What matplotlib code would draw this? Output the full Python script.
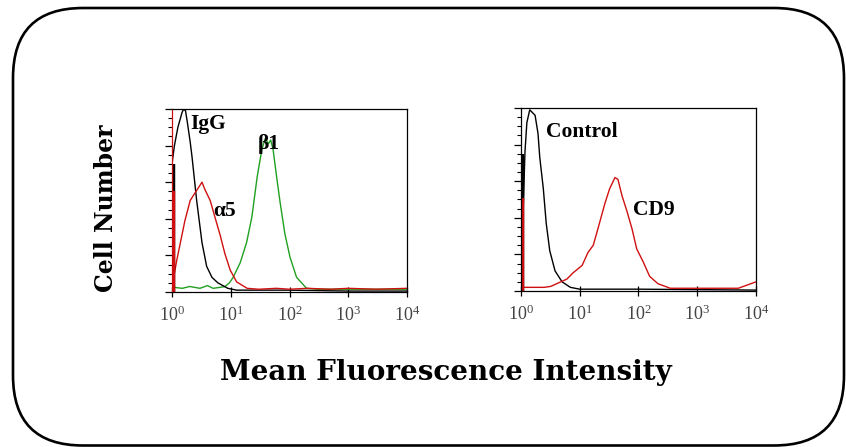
import matplotlib

matplotlib.use("Agg")
import matplotlib.pyplot as plt
import matplotlib.transforms as mtransforms
from matplotlib.patches import FancyBboxPatch
from matplotlib.ticker import FixedLocator, LogLocator, NullFormatter, FixedFormatter

# ── Data (MFI value, cell count, 0-100 scale) ─────────────────────────────────
igg_x = [1.0, 1.1, 1.26, 1.48, 1.58, 1.70, 1.82, 2.04, 2.19, 2.63, 3.24, 3.89,
         4.79, 6.03, 8.91, 12.6, 20, 50, 100, 1000, 10000]
igg_y = [70, 80, 90, 98, 100, 99, 93, 82, 74, 50, 27, 14,
         8, 5, 2, 1, 1, 1, 1, 0.5, 0.5]

a5_x = [1.07, 1.20, 1.66, 2.04, 2.45, 2.82, 3.24, 3.63, 4.47, 5.37, 6.61, 7.94,
        9.77, 12.6, 19, 30, 60, 100, 200, 500, 1000, 3000, 10000]
a5_y = [8, 17, 39, 50, 54, 57, 60, 56, 50, 41, 31, 21,
        12, 5.5, 2, 1.5, 2, 1.5, 2, 1.5, 2, 1.5, 2]

b1_x = [1.0, 1.1, 1.5, 2, 3, 4, 5, 6.5, 8, 9.5, 11, 14.5, 18.6, 22.9, 28.2,
        33.9, 38.9, 43.7, 47.9, 52.5, 60.3, 69.2, 83.2, 102, 132, 195, 300,
        1000, 10000]
b1_y = [8, 2.5, 2, 3, 2, 3.5, 2, 2.5, 3, 5, 8, 16, 27, 41, 63,
        78, 84, 81, 83, 78, 63, 49, 32, 19, 8, 2, 1.5,
        1.5, 1.5]

ctrl_x = [1.0, 1.17, 1.26, 1.41, 1.74, 1.95, 2.09, 2.40, 2.69, 3.09, 3.80, 5.01,
          6.92, 10, 100, 10000]
ctrl_y = [5, 76, 92, 99, 96, 86, 73, 56, 37, 22, 11, 5,
          2, 1, 1, 0.5]

cd9_x = [1.0, 1.5, 2.5, 3.2, 4.07, 6.03, 7.76, 11.0, 13.8, 17.0, 20.4, 26.9,
         32.4, 39.8, 44.7, 52.5, 63.1, 77.6, 93.3, 120, 155, 214, 347, 1000,
         5000, 10000]
cd9_y = [2, 2, 2, 2.5, 4, 6.5, 10, 14, 21, 25, 34, 48,
         56, 62, 61, 52, 44, 34, 23, 16, 8, 4, 1.5, 1.5,
         1.5, 5]

# first-channel (off-scale) counts piled up at MFI = 1
left_edge = {"black": 70, "red": 55}
right_edge = {"black": 75, "red": 51}

tick_vals = [1, 10, 100, 1000, 10000]
tick_labels = [r"$\mathregular{10^{%d}}$" % i for i in range(5)]

RED = "#D01010"
GREEN = "#20A020"
SERIF = "Liberation Serif"

plt.rcParams.update({"font.family": SERIF})

fig = plt.figure(figsize=(8.46, 4.47), dpi=100)
fig.patch.set_facecolor("white")

# rounded frame around the whole panel (display pixels)
frame = FancyBboxPatch((13, 1.5), 831, 437.5,
                       boxstyle="round,pad=0,rounding_size=70",
                       transform=mtransforms.IdentityTransform(),
                       facecolor="none", edgecolor="black", linewidth=1.9)
fig.patches.append(frame)


def style_axes(ax, left_spine_color):
    ax.set_xscale("log")
    ax.set_xlim(1, 10000)
    ax.set_ylim(0, 100)
    for s in ax.spines.values():
        s.set_linewidth(0.9)
    ax.spines["left"].set_color(left_spine_color)
    ax.xaxis.set_major_locator(FixedLocator(tick_vals))
    ax.xaxis.set_major_formatter(FixedFormatter(tick_labels))
    ax.xaxis.set_minor_locator(LogLocator(base=10, subs=range(2, 10)))
    ax.xaxis.set_minor_formatter(NullFormatter())
    ax.tick_params(axis="x", which="major", direction="inout", length=7,
                   width=0.9, labelsize=13, labelcolor="#444444", pad=6)
    ax.tick_params(axis="x", which="minor", direction="in", length=3, width=0.7)
    ax.yaxis.set_major_locator(FixedLocator([0, 20, 40, 60, 80, 100]))
    ax.yaxis.set_minor_locator(FixedLocator(list(range(0, 101, 5))))
    ax.tick_params(axis="y", which="major", direction="out", length=5,
                   width=0.9, labelleft=False)
    ax.tick_params(axis="y", which="minor", direction="out", length=3, width=0.8)


# ── Left panel: IgG / α5 / β1 ────────────────────────────────────────────────
ax_l = fig.add_axes([0.2033, 0.3468, 0.2778, 0.4094])
style_axes(ax_l, RED)
ax_l.plot(b1_x, b1_y, color=GREEN, lw=1.0)
ax_l.plot(igg_x, igg_y, color="black", lw=1.0)
ax_l.plot(a5_x, a5_y, color=RED, lw=1.0)
ax_l.vlines(1.035, 0, left_edge["black"], color="black", lw=3.2)
ax_l.vlines(1.035, 0, left_edge["red"], color=RED, lw=3.2)

lab = dict(fontsize=15.5, fontweight="bold", family=SERIF, va="center", ha="left")
ax_l.text(2.02, 92, "IgG", **lab)
ax_l.text(29, 81, "β1", **lab)
ax_l.text(5.0, 44, "α5", **lab)

# ── Right panel: Control / CD9 ───────────────────────────────────────────────
ax_r = fig.add_axes([0.6158, 0.3490, 0.2778, 0.4094])
style_axes(ax_r, "black")
ax_r.plot(ctrl_x, ctrl_y, color="black", lw=1.0)
ax_r.plot(cd9_x, cd9_y, color=RED, lw=1.0)
ax_r.vlines(1.035, 0, right_edge["black"], color="black", lw=3.2)
ax_r.vlines(1.035, 0, right_edge["red"], color=RED, lw=3.2)

ax_r.text(2.66, 87, "Control", **lab)
ax_r.text(80, 44, "CD9", **lab)

# ── Shared axis titles ───────────────────────────────────────────────────────
fig.text(0.125, 0.535, "Cell Number", rotation=90, ha="center", va="center",
         fontsize=17, fontweight="bold", family="DejaVu Serif")
fig.text(0.527, 0.150, "Mean Fluorescence Intensity", ha="center",
         va="baseline", fontsize=20, fontweight="bold", family="DejaVu Serif")

fig.savefig("out.png", dpi=100, facecolor="white")
